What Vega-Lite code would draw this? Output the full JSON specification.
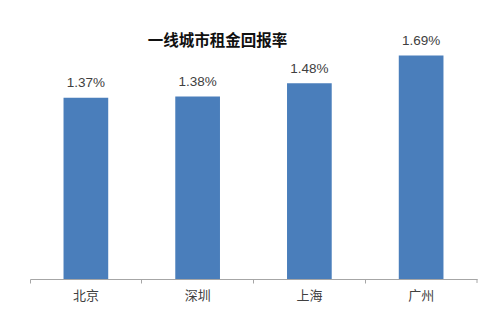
{
  "$schema": "https://vega.github.io/schema/vega-lite/v6.json",
  "autosize": "none",
  "width": 447,
  "height": 238,
  "padding": {"left": 30, "top": 41, "right": 22, "bottom": 39},
  "background": "white",
  "title": {
    "text": "一线城市租金回报率",
    "font": "Noto Sans CJK SC",
    "fontSize": 15.5,
    "fontWeight": "bold",
    "color": "#111111",
    "anchor": "middle",
    "dx": -36,
    "baseline": "middle",
    "offset": -22
  },
  "config": {"view": {"stroke": null}},
  "data": {
    "values": [
      {"city": "北京", "rate": 1.37, "label": "1.37%"},
      {"city": "深圳", "rate": 1.38, "label": "1.38%"},
      {"city": "上海", "rate": 1.48, "label": "1.48%"},
      {"city": "广州", "rate": 1.69, "label": "1.69%"}
    ]
  },
  "encoding": {
    "x": {
      "field": "city",
      "type": "nominal",
      "sort": null,
      "scale": {"paddingInner": 0.6, "paddingOuter": 0.3},
      "axis": {
        "title": null,
        "labelAngle": 0,
        "labelFont": "Noto Sans CJK SC",
        "labelFontSize": 13,
        "labelColor": "#404040",
        "labelPadding": 6,
        "domainColor": "#a6a6a6",
        "tickColor": "#a6a6a6",
        "tickSize": 4,
        "bandPosition": -0.75,
        "grid": false
      }
    },
    "y": {
      "field": "rate",
      "type": "quantitative",
      "scale": {"domain": [0, 1.8], "nice": false},
      "axis": null
    }
  },
  "layer": [
    {"mark": {"type": "bar", "color": "#4a7ebb"}},
    {
      "mark": {
        "type": "text",
        "baseline": "alphabetic",
        "dy": -10.5,
        "font": "Liberation Sans",
        "fontSize": 13.5,
        "color": "#404040"
      },
      "encoding": {"text": {"field": "label"}}
    },
    {
      "data": {"values": [{"city": "广州", "lo": 0, "hi": -0.03}]},
      "mark": {"type": "rule", "color": "#a6a6a6"},
      "encoding": {
        "x": {"field": "city", "type": "nominal", "bandPosition": 1.75},
        "y": {"field": "lo", "type": "quantitative"},
        "y2": {"field": "hi"}
      }
    }
  ]
}
